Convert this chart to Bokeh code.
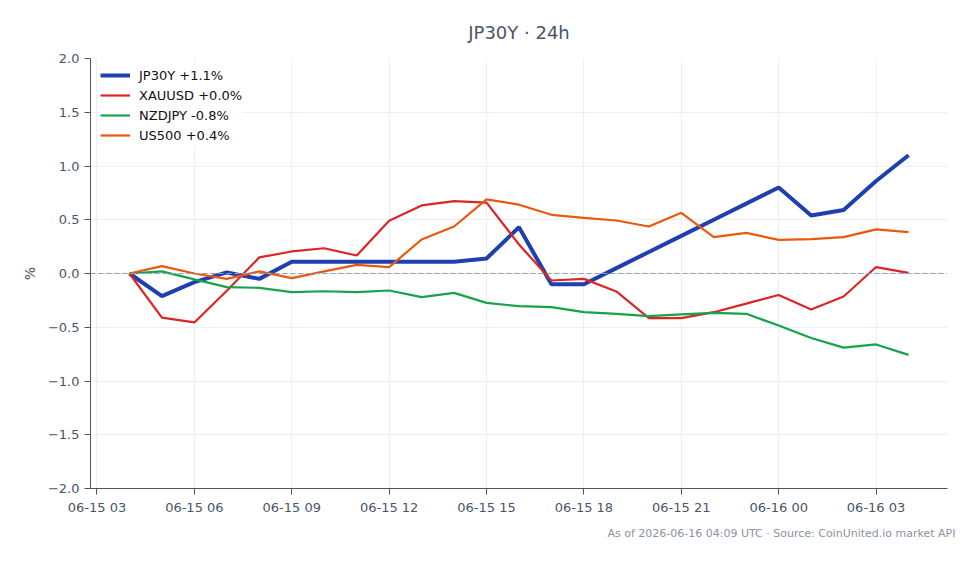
import pandas as pd
from bokeh.plotting import figure
from bokeh.models import (Span, Legend, LegendItem, Title, SingleIntervalTicker,
                          DatetimeTickFormatter, CustomJSTickFormatter, Range1d, FixedTicker)
from bokeh.embed import file_html
from bokeh.resources import INLINE

times = pd.date_range("2026-06-15 04:00", "2026-06-16 04:00", freq="1h")

jp30y = [0.00, -0.21, -0.08, 0.01, -0.05, 0.11, 0.11, 0.11, 0.11, 0.11, 0.11, 0.14,
         0.43, -0.10, -0.10, 0.05, 0.20, 0.35, 0.50, 0.65, 0.80, 0.54, 0.59, 0.86, 1.10]
xauusd = [0.00, -0.41, -0.455, -0.16, 0.15, 0.205, 0.235, 0.167, 0.49, 0.633, 0.673, 0.66,
          0.27, -0.065, -0.05, -0.167, -0.415, -0.415, -0.36, -0.28, -0.20, -0.335, -0.214, 0.06, 0.006]
nzdjpy = [0.00, 0.02, -0.055, -0.127, -0.133, -0.174, -0.165, -0.174, -0.158, -0.22, -0.18, -0.273,
          -0.304, -0.313, -0.36, -0.375, -0.397, -0.38, -0.366, -0.375, -0.484, -0.60, -0.69, -0.66, -0.757]
us500 = [0.00, 0.068, 0.00, -0.05, 0.02, -0.043, 0.02, 0.08, 0.06, 0.316, 0.437, 0.69,
         0.64, 0.546, 0.518, 0.493, 0.437, 0.565, 0.338, 0.378, 0.313, 0.32, 0.338, 0.41, 0.384]

names = ["JP30Y +1.1%", "XAUUSD +0.0%", "NZDJPY -0.8%", "US500 +0.4%"]
series = [jp30y, xauusd, nzdjpy, us500]
colors = ["#1e40af", "#dc2626", "#16a34a", "#ea580c"]
widths = [4, 2.2, 2.2, 2.2]
y_ticks = [-2.0, -1.5, -1.0, -0.5, 0.0, 0.5, 1.0, 1.5, 2.0]

pad = pd.Timedelta(hours=1.2)
p = figure(width=979, height=564, x_axis_type="datetime", output_backend="svg",
           toolbar_location=None,
           x_range=Range1d(times[0] - pad, times[-1] + pad),
           y_range=Range1d(-2.0, 2.0),
           min_border_left=90, min_border_right=32, min_border_top=58, min_border_bottom=76)

p.title.text = "JP30Y · 24h"
p.title.align = "center"
p.title.text_font = "DejaVu Sans"
p.title.text_font_size = "18px"
p.title.text_font_style = "normal"
p.title.text_color = "#4a5568"
p.title.standoff = 31

p.outline_line_color = None
p.background_fill_color = "white"
p.border_fill_color = "white"

for ax in (p.xaxis[0], p.yaxis[0]):
    ax.axis_line_color = "#4a5568"
    ax.major_tick_line_color = "#4a5568"
    ax.minor_tick_line_color = None
    ax.major_tick_out = 6
    ax.major_tick_in = 0
    ax.major_label_text_font = "DejaVu Sans"
    ax.major_label_text_font_size = "13px"
    ax.major_label_text_color = "#4a5568"

p.xaxis.ticker = SingleIntervalTicker(interval=3 * 3600 * 1000, num_minor_ticks=0)
p.xaxis.formatter = DatetimeTickFormatter(hours="%m-%d %H", days="%m-%d %H", minutes="%m-%d %H")
p.yaxis.ticker = FixedTicker(ticks=y_ticks)
p.yaxis.formatter = CustomJSTickFormatter(code="""
return tick < 0 ? '\\u2212' + Math.abs(tick).toFixed(1) : tick.toFixed(1);
""")
p.yaxis.axis_label = "%"
p.yaxis.axis_label_text_font = "DejaVu Sans"
p.yaxis.axis_label_text_font_size = "14px"
p.yaxis.axis_label_text_font_style = "normal"
p.yaxis.axis_label_text_color = "#4a5568"
p.yaxis.axis_label_standoff = 7

p.xgrid.grid_line_color = "#eceff3"
p.ygrid.grid_line_color = "#eceff3"

p.add_layout(Span(location=0, dimension="width", line_color="#8da2c0",
                  line_dash="5 3", line_width=1))

items = []
for name, ys, c, w in zip(names, series, colors, widths):
    r = p.line(times, ys, line_color=c, line_width=w)
    items.append(LegendItem(label=name, renderers=[r]))

legend = Legend(items=items, location=(10, 343), margin=0, padding=5,
                glyph_width=30, glyph_height=20, label_height=20, spacing=0,
                label_standoff=9, label_text_font="DejaVu Sans",
                label_text_font_size="13px", label_text_color="#111111",
                border_line_color=None, background_fill_alpha=1.0)
p.add_layout(legend)

p.add_layout(Title(text="As of 2026-06-16 04:09 UTC · Source: CoinUnited.io market API",
                   align="right", text_font="DejaVu Sans", text_font_size="11px",
                   text_font_style="normal", text_color="#8a94a3",
                   offset=-8, standoff=14), "below")

open("out.html", "w").write(file_html(p, INLINE))
